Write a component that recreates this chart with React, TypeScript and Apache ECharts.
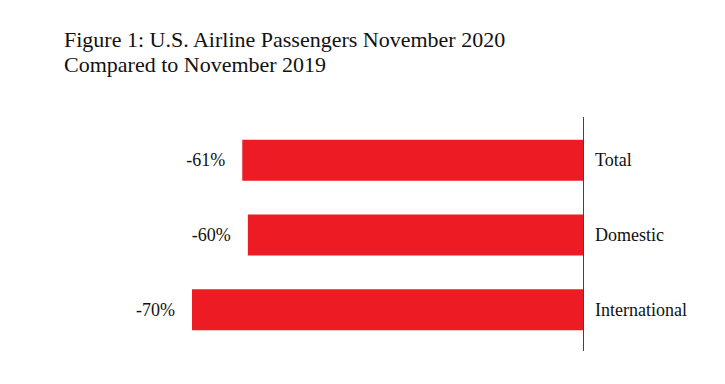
import React, { useEffect, useRef } from "react";
import * as echarts from "echarts";

const categories = ["Total", "Domestic", "International"];
const changePct = [-61, -60, -70];
const titleLines = ["Figure 1: U.S. Airline Passengers November 2020", "Compared to November 2019"];

const FONT = "'Liberation Serif', 'Times New Roman', Times, serif";

export default function App() {
  const ref = useRef<HTMLDivElement>(null);
  useEffect(() => {
    if (!ref.current) return;
    const chart = echarts.init(ref.current, null, { renderer: "svg" });
    chart.setOption({
      animation: false,
      backgroundColor: "#ffffff",
      title: {
        text: titleLines.join("\n"),
        left: 64,
        top: 27,
        padding: 0,
        textStyle: {
          fontFamily: FONT,
          fontSize: 22,
          fontWeight: "normal",
          color: "#111111",
          lineHeight: 25,
        },
      },
      grid: { left: 192, right: 142, top: 123, height: 224, containLabel: false },
      xAxis: {
        type: "value",
        min: -70,
        max: 0,
        show: false,
      },
      yAxis: {
        type: "category",
        data: categories,
        inverse: true,
        position: "right",
        axisLine: { show: false },
        axisTick: { show: false },
        splitLine: { show: false },
        axisLabel: {
          margin: 12,
          fontFamily: FONT,
          fontSize: 18,
          color: "#111111",
        },
      },
      graphic: [
        {
          type: "line",
          shape: { x1: 583.5, y1: 117, x2: 583.5, y2: 351 },
          style: { stroke: "#444444", lineWidth: 1 },
          z: 10,
        },
      ],
      series: [
        {
          type: "bar",
          data: changePct,
          barWidth: 41,
          itemStyle: { color: "#ED1C24" },
          label: {
            show: true,
            position: "left",
            distance: 17,
            formatter: (p: any) => `${p.value}%`,
            fontFamily: FONT,
            fontSize: 18,
            color: "#111111",
          },
        },
      ],
    });
    return () => chart.dispose();
  }, []);
  return (
    <div
      ref={ref}
      style={{ position: "fixed", left: 0, top: 0, width: 725, height: 384, background: "#fff" }}
    />
  );
}
